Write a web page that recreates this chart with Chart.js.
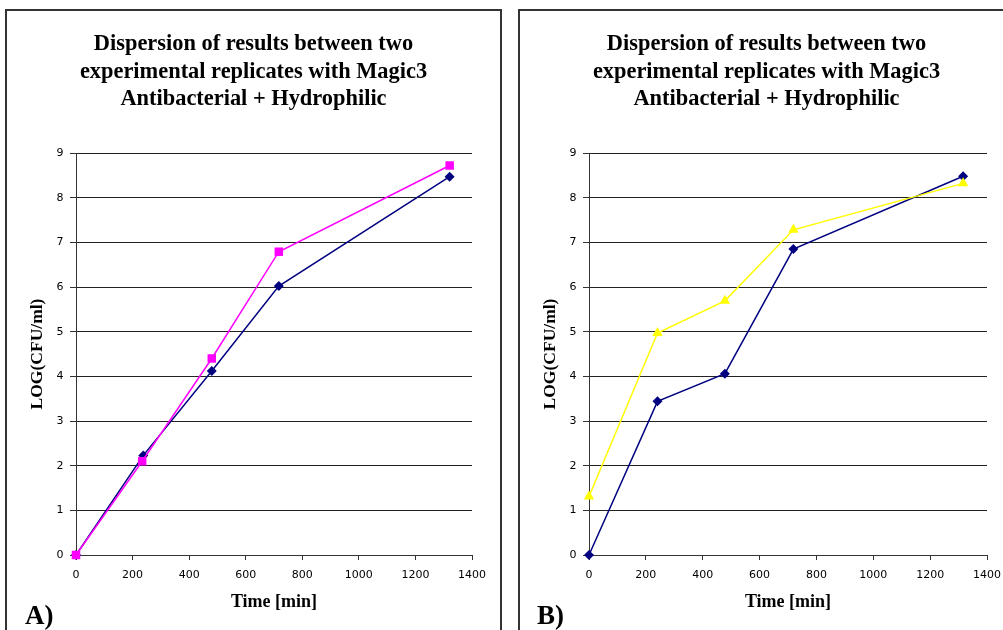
<!DOCTYPE html>
<html>
<head>
<meta charset="utf-8">
<script src="https://cdn.jsdelivr.net/npm/chart.js@4"></script>
<style>
  html, body { margin: 0; padding: 0; background: #fff; overflow: hidden; width: 1003px; height: 630px; }
  .panel { position: absolute; top: 9px; height: 660px; width: 497px; border: 2px solid #333; box-sizing: border-box; }
  #panelA { left: 5px; }
  #panelB { left: 518px; }
  canvas { position: absolute; }
  #chartA { left: 7px; top: 11px; }
  #chartB { left: 520px; top: 11px; }
  .tag { position: absolute; font: bold 27px "Liberation Serif", "Times New Roman", serif; line-height: 1; }
  #tagA { left: 25px; top: 602px; }
  #tagB { left: 537px; top: 602px; }
</style>
</head>
<body>
<div class="panel" id="panelA"></div>
<div class="panel" id="panelB"></div>
<canvas id="chartA" width="493" height="619"></canvas>
<canvas id="chartB" width="493" height="619"></canvas>
<div class="tag" id="tagA">A)</div>
<div class="tag" id="tagB">B)</div>

<script>
// titre et axes (identiques pour les deux graphiques)
const titleLines = [
  "Dispersion of results between two",
  "experimental replicates with Magic3",
  "Antibacterial + Hydrophilic"
];
const xTitle = "Time [min]";
const yTitle = "LOG(CFU/ml)";

// graphique A : temps en minutes et LOG(CFU/ml)
const timesA1 = [0, 238, 480, 717, 1321];
const replicateA1 = [0, 2.23, 4.12, 6.02, 8.47];
const timesA2 = [0, 234, 480, 717, 1321];
const replicateA2 = [0, 2.1, 4.4, 6.79, 8.72];

// graphique B
const timesB1 = [0, 241, 478, 719, 1316];
const replicateB1 = [0, 3.44, 4.06, 6.85, 8.48];
const timesB2 = [0, 241, 478, 719, 1316];
const replicateB2 = [1.31, 4.97, 5.69, 7.28, 8.32];

const serif = '"Liberation Serif", "Times New Roman", serif';
const sans = '"DejaVu Sans", Verdana, sans-serif';

function toPoints(xs, ys) {
  return xs.map((x, i) => ({ x: x, y: ys[i] }));
}

// titre centré sur tout le cadre (pas seulement sur la zone du graphique)
const panelTitle = {
  id: 'panelTitle',
  afterDraw(chart) {
    const c = chart.ctx;
    c.save();
    c.font = 'bold 22.4px ' + serif;
    c.fillStyle = '#000';
    c.textAlign = 'center';
    c.textBaseline = 'alphabetic';
    titleLines.forEach((line, i) => {
      c.fillText(line, chart.width / 2, 39 + i * 27.5);
    });
    c.restore();
  }
};

function makeChart(id, datasets, padRight) {
  return new Chart(document.getElementById(id), {
    type: 'scatter',
    data: { datasets: datasets },
    plugins: [panelTitle],
    options: {
      responsive: false,
      animation: false,
      layout: { padding: { top: 142, right: padRight, bottom: 0, left: 0 } },
      plugins: {
        legend: { display: false },
        tooltip: { enabled: false },
        title: { display: false }
      },
      scales: {
        x: {
          type: 'linear',
          min: 0, max: 1400,
          afterFit: (s) => { s.height = 75; },
          ticks: {
            stepSize: 200, color: '#000', padding: 8.5, maxRotation: 0,
            font: { family: sans, size: 11 },
            callback: (v) => String(v)
          },
          grid: { drawOnChartArea: false, drawTicks: true, tickLength: 5, tickColor: '#333' },
          border: { color: '#333', width: 1 },
          title: {
            display: true, text: xTitle, color: '#000',
            font: { family: serif, weight: 'bold', size: 18, lineHeight: 1.2 },
            padding: { top: 0, bottom: 17 }
          }
        },
        y: {
          min: 0, max: 9,
          afterFit: (s) => { s.width = 69; },
          ticks: { stepSize: 1, color: '#000', padding: 6.5, font: { family: sans, size: 11 } },
          grid: { color: '#222', lineWidth: 1, tickLength: 6, tickColor: '#333' },
          border: { color: '#333', width: 1 },
          title: {
            display: true, text: yTitle, color: '#000',
            font: { family: serif, weight: 'bold', size: 17.5, lineHeight: 1.2 },
            padding: { top: 19.5, bottom: 0 }
          }
        }
      }
    }
  });
}

const navy = '#000080';

makeChart('chartA', [
  {
    data: toPoints(timesA2, replicateA2), showLine: true, clip: false,
    borderColor: '#FF00FF', backgroundColor: '#FF00FF', borderWidth: 1.5,
    pointStyle: 'rect', pointRadius: 6, pointBorderWidth: 0, order: 0
  },
  {
    data: toPoints(timesA1, replicateA1), showLine: true, clip: false,
    borderColor: navy, backgroundColor: navy, borderWidth: 1.5,
    pointStyle: 'rectRot', pointRadius: 5, pointBorderWidth: 0, order: 1
  }
], 28);

makeChart('chartB', [
  {
    data: toPoints(timesB2, replicateB2), showLine: true, clip: false,
    borderColor: '#FFFF00', backgroundColor: '#FFFF00', borderWidth: 1.5,
    pointStyle: 'triangle', pointRadius: 6, pointBorderWidth: 0, order: 0
  },
  {
    data: toPoints(timesB1, replicateB1), showLine: true, clip: false,
    borderColor: navy, backgroundColor: navy, borderWidth: 1.5,
    pointStyle: 'rectRot', pointRadius: 5, pointBorderWidth: 0, order: 1
  }
], 26);
</script>
</body>
</html>
